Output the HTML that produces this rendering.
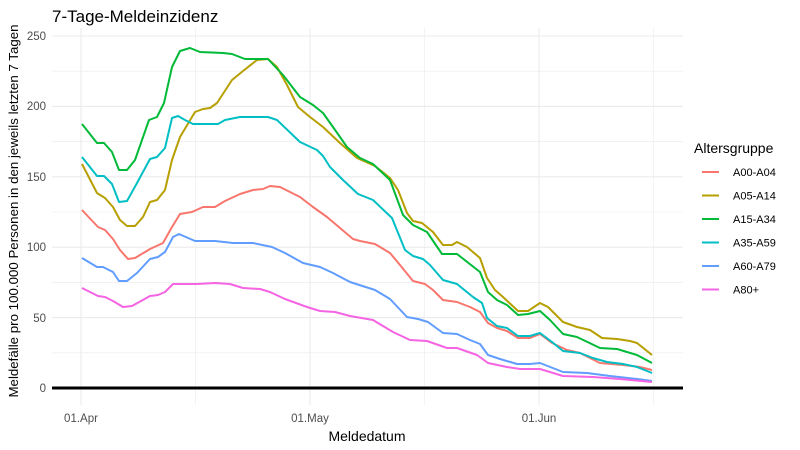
<!DOCTYPE html>
<html><head><meta charset="utf-8"><style>body{margin:0;background:#fff}svg{display:block;font-family:"Liberation Sans",sans-serif}</style></head><body>
<svg width="800" height="450" xmlns="http://www.w3.org/2000/svg">
<rect width="800" height="450" fill="#fff"/>
<g stroke="#ebebeb" stroke-width="0.6">
<line x1="52" x2="683" y1="352.8" y2="352.8"/><line x1="52" x2="683" y1="282.4" y2="282.4"/><line x1="52" x2="683" y1="212" y2="212"/><line x1="52" x2="683" y1="141.6" y2="141.6"/><line x1="52" x2="683" y1="71.2" y2="71.2"/>
<line x1="195.5" x2="195.5" y1="28" y2="405"/><line x1="424.5" x2="424.5" y1="28" y2="405"/><line x1="653.5" x2="653.5" y1="28" y2="405"/>
</g>
<g stroke="#ebebeb" stroke-width="1.1">
<line x1="52" x2="683" y1="317.6" y2="317.6"/><line x1="52" x2="683" y1="247.2" y2="247.2"/><line x1="52" x2="683" y1="176.8" y2="176.8"/><line x1="52" x2="683" y1="106.4" y2="106.4"/><line x1="52" x2="683" y1="36" y2="36"/>
<line x1="81" x2="81" y1="28" y2="405"/><line x1="310" x2="310" y1="28" y2="405"/><line x1="539" x2="539" y1="28" y2="405"/>
</g>
<g fill="none" stroke-width="2" stroke-linejoin="round">
<polyline stroke="#F8766D" points="82,210 98,227 105,230 113,239 120,250 128,259 135,258 150,249 163,243 172,227 180,214 192,212 203,207 215,207 225,201 240,194 253,190 263,189 270,186 280,187 300,197 313,207 327,217 340,228 353,239 360,241 375,244 390,253 400,265 413,281 425,284 433,290 443,300 457,302 470,307 480,312 488,323 497,328 507,331 518,338 530,338 540,334 552,343 567,350 580,353 600,363 623,365 640,367 652,370"/>
<polyline stroke="#B79F00" points="82,164 97,193 105,198 113,207 120,220 127,226 135,226 143,217 150,202 157,200 165,190 172,160 180,137 195,112 203,109 210,108 217,103 232,80 243,71 257,60 268,59 277,67 287,85 298,107 310,117 323,127 340,143 357,158 375,166 390,178 398,190 407,213 413,221 422,223 433,232 443,245 452,245 457,242 467,247 480,258 487,278 495,290 503,297 518,311 528,311 540,303 548,307 563,322 577,327 590,330 602,338 617,339 630,341 637,343 652,355"/>
<polyline stroke="#00BA38" points="82,124 97,143 104,143 112,152 119,170 127,170 135,160 149,120 157,117 164,103 172,67 180,51 190,48 200,52 223,53 232,54 245,59 268,59 283,75 300,97 313,105 323,113 333,127 347,147 360,158 373,164 390,180 403,215 413,225 427,232 442,254 457,254 480,272 488,292 497,300 507,305 518,315 528,314 540,311 550,320 563,334 577,337 600,348 617,349 637,355 652,363"/>
<polyline stroke="#00BFC4" points="82,157 97,176 104,176 112,184 119,202 127,201 137,183 150,159 157,157 165,148 172,118 178,116 185,120 193,124 218,124 225,120 240,117 268,117 277,120 300,142 317,150 323,156 330,167 343,180 358,194 373,200 392,218 405,250 413,256 423,259 430,265 443,280 457,284 473,297 482,303 487,318 497,326 507,328 518,336 530,336 540,333 552,342 563,351 580,353 593,358 607,362 623,364 637,367 652,373"/>
<polyline stroke="#619CFF" points="82,258 97,267 103,267 113,272 119,281 127,281 137,273 150,259 158,257 165,252 173,237 179,234 195,241 215,241 233,243 253,243 272,247 285,253 303,263 320,267 333,273 350,282 375,290 390,299 407,317 418,319 428,322 443,333 457,334 470,340 480,344 488,355 500,359 517,364 530,364 540,363 563,372 587,373 610,376 637,379 652,381"/>
<polyline stroke="#F564E3" points="82,288 98,296 105,297 113,301 123,307 132,306 150,296 158,295 165,292 173,284 197,284 215,283 230,284 243,288 260,289 270,292 285,299 307,307 320,311 335,312 350,316 373,320 393,332 410,340 427,341 447,348 457,348 477,355 488,363 507,367 520,369 540,369 563,376 593,377 620,379 652,382"/>
</g>
<line x1="52" x2="683" y1="388" y2="388" stroke="#000" stroke-width="3"/>
<g font-size="11.5" fill="#4d4d4d" text-anchor="end">
<text x="46" y="392">0</text><text x="46" y="322">50</text><text x="46" y="251">100</text><text x="46" y="181">150</text><text x="46" y="110">200</text><text x="46" y="40">250</text>
</g>
<g font-size="11.5" fill="#4d4d4d" text-anchor="middle">
<text x="81" y="422">01.Apr</text><text x="310" y="422">01.May</text><text x="539" y="422">01.Jun</text>
</g>
<text x="367" y="441" font-size="14" text-anchor="middle" fill="#000">Meldedatum</text>
<text transform="translate(18,211) rotate(-90)" font-size="13.3" text-anchor="middle" fill="#000">Meldefälle pro 100.000 Personen in den jeweils letzten 7 Tagen</text>
<text x="52" y="22" font-size="17" fill="#000">7-Tage-Meldeinzidenz</text>
<text x="694" y="153" font-size="14" fill="#000">Altersgruppe</text>
<g stroke-width="2">
<line x1="702" x2="719" y1="172" y2="172" stroke="#F8766D"/><line x1="702" x2="719" y1="195.5" y2="195.5" stroke="#B79F00"/><line x1="702" x2="719" y1="219" y2="219" stroke="#00BA38"/><line x1="702" x2="719" y1="242.5" y2="242.5" stroke="#00BFC4"/><line x1="702" x2="719" y1="266" y2="266" stroke="#619CFF"/><line x1="702" x2="719" y1="289.5" y2="289.5" stroke="#F564E3"/>
</g>
<g font-size="11" fill="#000">
<text x="733" y="176">A00-A04</text><text x="733" y="199.5">A05-A14</text><text x="733" y="223">A15-A34</text><text x="733" y="246.5">A35-A59</text><text x="733" y="270">A60-A79</text><text x="733" y="293.5">A80+</text>
</g>
</svg>
</body></html>
